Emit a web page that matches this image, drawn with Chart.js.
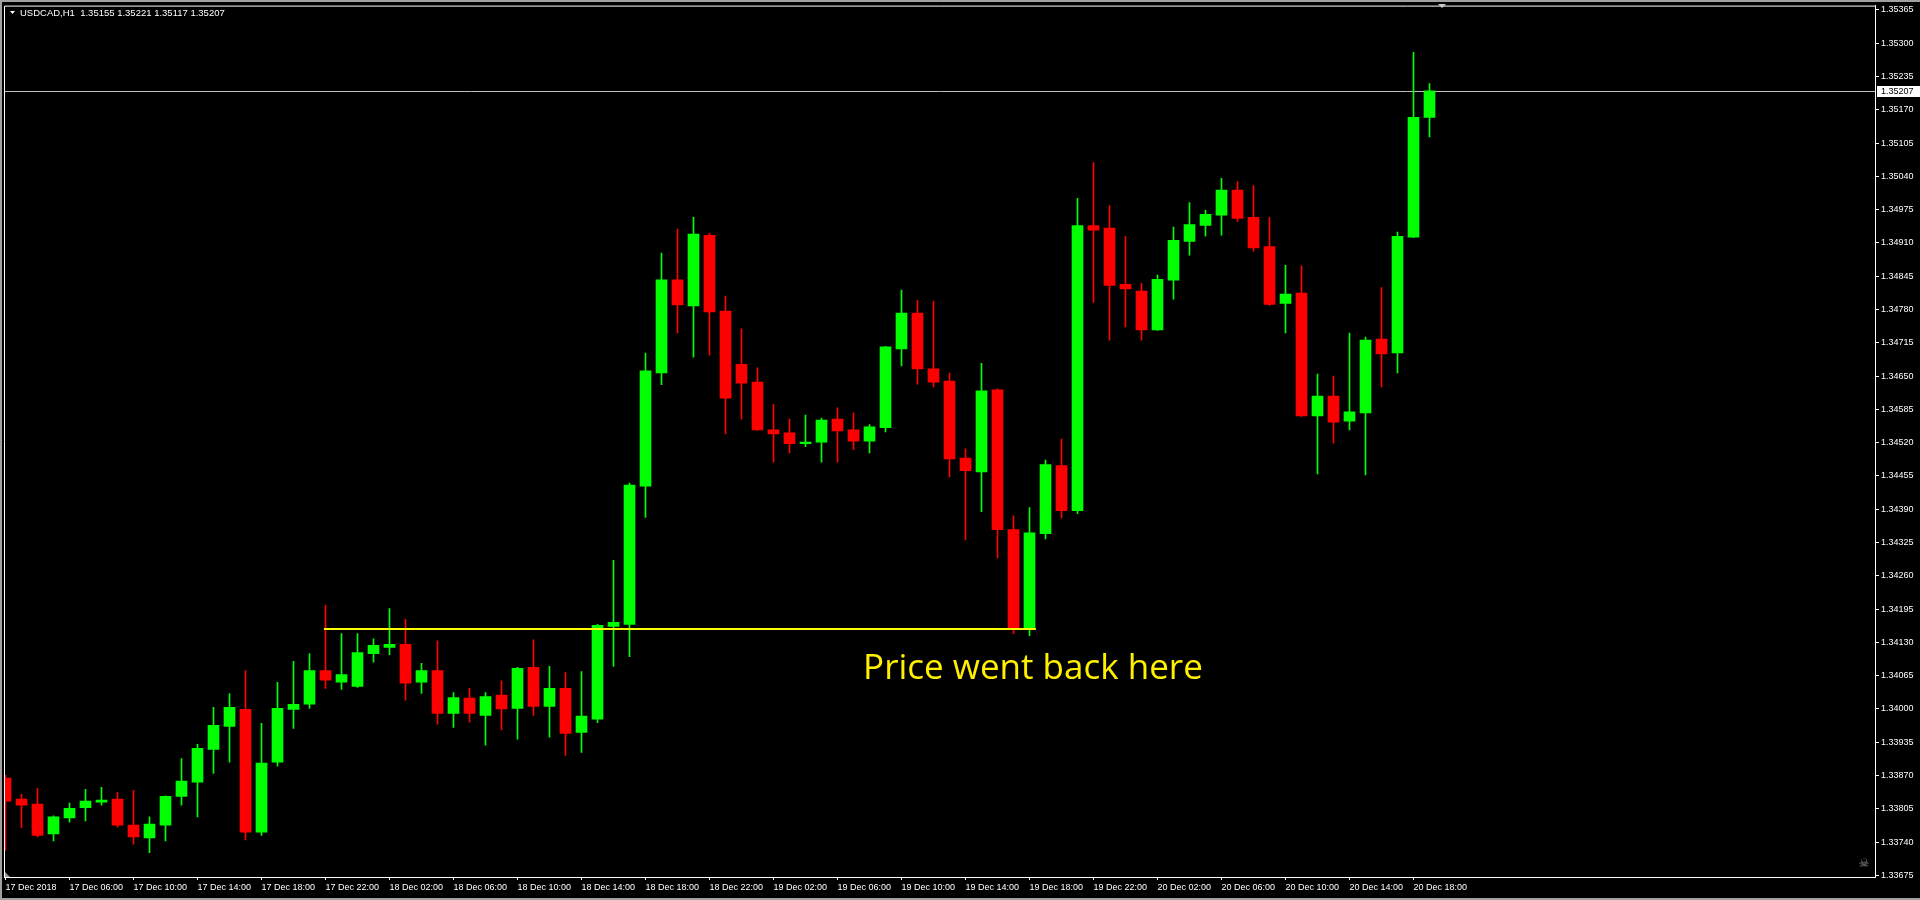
<!DOCTYPE html>
<html>
<head>
<title>USDCAD,H1</title>
<script src="https://cdn.jsdelivr.net/npm/chart.js"></script>
<style>
  html, body { margin: 0; padding: 0; background: #000; overflow: hidden; }
  #wrap { width: 1920px; height: 900px; position: relative; }
</style>
</head>
<body>
<div id="wrap"><canvas id="chart"></canvas></div>
<script>
// USDCAD H1, first bar = 17 Dec 2018 02:00, one bar per hour
const open = [
  1.33865, 1.33824, 1.33814, 1.33756, 1.33787, 1.33807, 1.33818, 1.33824, 1.33773, 1.33748,
  1.33773, 1.33829, 1.33857, 1.33921, 1.33966, 1.33999, 1.33759, 1.33896, 1.33999, 1.34009,
  1.34075, 1.34052, 1.34044, 1.34108, 1.34120, 1.34126, 1.34052, 1.34075, 1.33991, 1.34021,
  1.33987, 1.34027, 1.34001, 1.34081, 1.34005, 1.34040, 1.33954, 1.33980, 1.34161, 1.34165,
  1.34435, 1.34656, 1.34838, 1.34787, 1.34925, 1.34777, 1.34673, 1.34638, 1.34545, 1.34539,
  1.34518, 1.34521, 1.34566, 1.34545, 1.34523, 1.34549, 1.34703, 1.34773, 1.34664, 1.34640,
  1.34490, 1.34463, 1.34623, 1.34350, 1.34157, 1.34342, 1.34475, 1.34387, 1.34944, 1.34939,
  1.34829, 1.34816, 1.34740, 1.34837, 1.34913, 1.34944, 1.34964, 1.35013, 1.34960, 1.34903,
  1.34792, 1.34812, 1.34572, 1.34611, 1.34562, 1.34578, 1.34722, 1.34695, 1.34921, 1.35155
];
const high = [
  1.33870, 1.33833, 1.33845, 1.33791, 1.33816, 1.33843, 1.33847, 1.33837, 1.33841, 1.33789,
  1.33830, 1.33903, 1.33931, 1.34003, 1.34030, 1.34075, 1.33972, 1.34052, 1.34093, 1.34108,
  1.34202, 1.34147, 1.34147, 1.34137, 1.34196, 1.34175, 1.34089, 1.34133, 1.34032, 1.34040,
  1.34032, 1.34055, 1.34081, 1.34135, 1.34083, 1.34071, 1.34073, 1.34165, 1.34290, 1.34441,
  1.34695, 1.34890, 1.34937, 1.34960, 1.34929, 1.34806, 1.34742, 1.34666, 1.34595, 1.34566,
  1.34574, 1.34568, 1.34588, 1.34578, 1.34555, 1.34708, 1.34818, 1.34798, 1.34796, 1.34656,
  1.34508, 1.34675, 1.34625, 1.34377, 1.34393, 1.34486, 1.34527, 1.34997, 1.35067, 1.34983,
  1.34923, 1.34831, 1.34847, 1.34941, 1.34989, 1.34974, 1.35036, 1.35030, 1.35022, 1.34960,
  1.34866, 1.34865, 1.34654, 1.34650, 1.34734, 1.34726, 1.34823, 1.34931, 1.35282, 1.35221
];
const low = [
  1.33724, 1.33768, 1.33750, 1.33742, 1.33779, 1.33781, 1.33812, 1.33769, 1.33736, 1.33719,
  1.33742, 1.33812, 1.33789, 1.33874, 1.33896, 1.33744, 1.33753, 1.33888, 1.33962, 1.34001,
  1.34040, 1.34038, 1.34042, 1.34091, 1.34106, 1.34017, 1.34030, 1.33970, 1.33964, 1.33974,
  1.33929, 1.33959, 1.33941, 1.33987, 1.33945, 1.33909, 1.33915, 1.33973, 1.34083, 1.34102,
  1.34374, 1.34633, 1.34734, 1.34687, 1.34691, 1.34537, 1.34566, 1.34544, 1.34482, 1.34500,
  1.34512, 1.34482, 1.34482, 1.34506, 1.34500, 1.34541, 1.34670, 1.34634, 1.34629, 1.34453,
  1.34330, 1.34385, 1.34295, 1.34147, 1.34143, 1.34332, 1.34373, 1.34381, 1.34794, 1.34720,
  1.34746, 1.34720, 1.34739, 1.34800, 1.34886, 1.34923, 1.34925, 1.34952, 1.34894, 1.34788,
  1.34734, 1.34571, 1.34459, 1.34519, 1.34545, 1.34457, 1.34629, 1.34656, 1.34920, 1.35117
];
const close = [
  1.33820, 1.33812, 1.33753, 1.33789, 1.33806, 1.33820, 1.33822, 1.33773, 1.33750, 1.33775,
  1.33829, 1.33859, 1.33923, 1.33968, 1.34003, 1.33759, 1.33894, 1.34001, 1.34009, 1.34075,
  1.34056, 1.34067, 1.34110, 1.34124, 1.34126, 1.34050, 1.34075, 1.33991, 1.34022, 1.33991,
  1.34024, 1.34000, 1.34079, 1.34005, 1.34040, 1.33952, 1.33986, 1.34163, 1.34169, 1.34437,
  1.34660, 1.34838, 1.34789, 1.34927, 1.34775, 1.34607, 1.34636, 1.34545, 1.34537, 1.34518,
  1.34521, 1.34564, 1.34543, 1.34523, 1.34551, 1.34707, 1.34773, 1.34664, 1.34638, 1.34488,
  1.34465, 1.34621, 1.34350, 1.34157, 1.34344, 1.34477, 1.34387, 1.34944, 1.34935, 1.34827,
  1.34820, 1.34740, 1.34839, 1.34915, 1.34946, 1.34966, 1.35013, 1.34958, 1.34900, 1.34790,
  1.34810, 1.34572, 1.34611, 1.34560, 1.34580, 1.34720, 1.34693, 1.34923, 1.35155, 1.35207
];

// bottom axis, one label every 4 bars
const timeLabels = [
  '17 Dec 2018', '17 Dec 06:00', '17 Dec 10:00', '17 Dec 14:00', '17 Dec 18:00', '17 Dec 22:00',
  '18 Dec 02:00', '18 Dec 06:00', '18 Dec 10:00', '18 Dec 14:00', '18 Dec 18:00', '18 Dec 22:00',
  '19 Dec 02:00', '19 Dec 06:00', '19 Dec 10:00', '19 Dec 14:00', '19 Dec 18:00', '19 Dec 22:00',
  '20 Dec 02:00', '20 Dec 06:00', '20 Dec 10:00', '20 Dec 14:00', '20 Dec 18:00'
];
// right axis
const priceTicks = [
  1.33675, 1.33740, 1.33805, 1.33870, 1.33935, 1.34000, 1.34065, 1.34130, 1.34195,
  1.34260, 1.34325, 1.34390, 1.34455, 1.34520, 1.34585, 1.34650, 1.34715, 1.34780,
  1.34845, 1.34910, 1.34975, 1.35040, 1.35105, 1.35170, 1.35235, 1.35300, 1.35365
];

const symbol = 'USDCAD,H1';
const bid = 1.35207;
// yellow level, drawn from bar 19.9 to bar 64.4
const levelPrice = 1.34156;
const levelBars = [19.9, 64.4];
const note = 'Price went back here';
const noteAt = { x: 53.6, y: 1.34058 };

const UP = '#00ff00', DOWN = '#ff0000';
const colors = open.map((o, i) => close[i] >= o ? UP : DOWN);
const labelFont = { family: 'Liberation Sans', size: 9, lineHeight: 0.8 };

const deco = {
  id: 'deco',
  beforeDraw(chart) {
    const { ctx, width, height } = chart;
    ctx.save();
    ctx.fillStyle = '#000';
    ctx.fillRect(0, 0, width, height);
    ctx.fillStyle = '#a0a0a0';
    ctx.fillRect(0, 0, width, 2);
    ctx.fillRect(0, 0, 2, height);
    ctx.fillRect(0, height - 2, width, 2);
    ctx.restore();
  },
  beforeDatasetsDraw(chart) {
    const { ctx, chartArea: a, scales } = chart;
    const py = Math.round(scales.y.getPixelForValue(bid)) + 0.5;
    ctx.save();
    ctx.strokeStyle = '#c0c0c0';
    ctx.lineWidth = 1;
    ctx.beginPath();
    ctx.moveTo(a.left, py);
    ctx.lineTo(a.right, py);
    ctx.stroke();
    ctx.restore();
  },
  afterDraw(chart) {
    const { ctx, chartArea: a, scales, width } = chart;
    ctx.save();
    // left / top frame
    ctx.strokeStyle = '#ffffff';
    ctx.lineWidth = 1;
    ctx.beginPath();
    ctx.moveTo(a.left + 0.5, a.bottom);
    ctx.lineTo(a.left + 0.5, a.top + 0.5);
    ctx.lineTo(a.right, a.top + 0.5);
    ctx.stroke();

    // bid label on the price axis
    const py = Math.round(scales.y.getPixelForValue(bid));
    ctx.fillStyle = '#ffffff';
    ctx.fillRect(a.right + 2, py - 5, width - a.right - 2, 11);
    ctx.fillStyle = '#000000';
    ctx.font = '9px "Liberation Sans"';
    ctx.textBaseline = 'middle';
    ctx.textAlign = 'left';
    ctx.fillText(bid.toFixed(5), a.right + 6, py + 0.5);

    // header
    ctx.fillStyle = '#ffffff';
    ctx.beginPath();
    ctx.moveTo(10, 11); ctx.lineTo(15, 11); ctx.lineTo(12.5, 14); ctx.closePath();
    ctx.fill();
    ctx.font = '9.5px "Liberation Sans"';
    const last = open.length - 1;
    ctx.fillText(symbol + '  ' + [open[last], high[last], low[last], close[last]].map(v => v.toFixed(5)).join(' '), 20, 13);

    // shift marker at the top
    ctx.fillStyle = '#c8c8c8';
    ctx.beginPath();
    ctx.moveTo(1438, 4); ctx.lineTo(1446, 4); ctx.lineTo(1442, 8); ctx.closePath();
    ctx.fill();
    // scroll marker bottom left
    ctx.fillStyle = '#9a9a9a';
    ctx.beginPath();
    ctx.moveTo(a.left + 1, a.bottom - 5); ctx.lineTo(a.left + 1, a.bottom); ctx.lineTo(a.left + 6, a.bottom); ctx.closePath();
    ctx.fill();
    // expert icon
    ctx.fillStyle = '#8a8a8a';
    ctx.font = '12px "DejaVu Sans"';
    ctx.textAlign = 'center';
    ctx.fillText('\u2620', 1864, 864);

    // note
    ctx.fillStyle = '#fff000';
    ctx.font = '35px "Open Sans"';
    ctx.textAlign = 'left';
    ctx.textBaseline = 'alphabetic';
    ctx.fillText(note, scales.x.getPixelForValue(noteAt.x), scales.y.getPixelForValue(noteAt.y));
    ctx.restore();
  }
};

const bars = open.map((_, i) => i);

new Chart(document.getElementById('chart'), {
  type: 'bar',
  data: {
    datasets: [
      {
        type: 'line',
        label: 'level',
        data: levelBars.map(x => ({ x: x, y: levelPrice })),
        borderColor: '#ffff00',
        borderWidth: 2,
        borderCapStyle: 'butt',
        pointRadius: 0,
        tension: 0
      },
      {
        label: 'body',
        data: bars.map(i => ({ x: i, y: [open[i], close[i]] })),
        backgroundColor: colors,
        borderWidth: 0,
        barThickness: 11,
        minBarLength: 1,
        grouped: false
      },
      {
        label: 'wick',
        data: bars.map(i => ({ x: i, y: [low[i], high[i]] })),
        backgroundColor: colors,
        borderWidth: 0,
        barThickness: 1,
        minBarLength: 1,
        grouped: false
      }
    ]
  },
  options: {
    responsive: true,
    maintainAspectRatio: false,
    animation: false,
    layout: { padding: { left: 4, top: 4, right: 0, bottom: 0 } },
    plugins: { legend: { display: false }, tooltip: { enabled: false } },
    scales: {
      x: {
        type: 'linear',
        position: 'bottom',
        min: -0.09375,
        max: 116.84375,
        offset: false,
        grid: { drawOnChartArea: false, color: '#ffffff', tickLength: 3, offset: false },
        border: { color: '#ffffff' },
        ticks: {
          color: '#ffffff',
          font: labelFont,
          autoSkip: false,
          maxRotation: 0,
          align: 'start',
          padding: 4,
          callback: v => timeLabels[Math.round(v / 4)]
        },
        afterBuildTicks: s => { s.ticks = timeLabels.map((_, k) => ({ value: k * 4 })); },
        afterFit: s => { s.height = 23; }
      },
      y: {
        type: 'linear',
        position: 'right',
        min: 1.3367169,
        max: 1.3537344,
        beginAtZero: false,
        grid: { drawOnChartArea: false, color: '#ffffff', tickLength: 4 },
        border: { color: '#ffffff' },
        ticks: {
          color: '#ffffff',
          font: labelFont,
          autoSkip: false,
          padding: 2,
          callback: v => v.toFixed(5)
        },
        afterBuildTicks: s => { s.ticks = priceTicks.map(v => ({ value: v })); },
        afterFit: s => { s.width = 45; }
      }
    }
  },
  plugins: [deco]
});
</script>
</body>
</html>
